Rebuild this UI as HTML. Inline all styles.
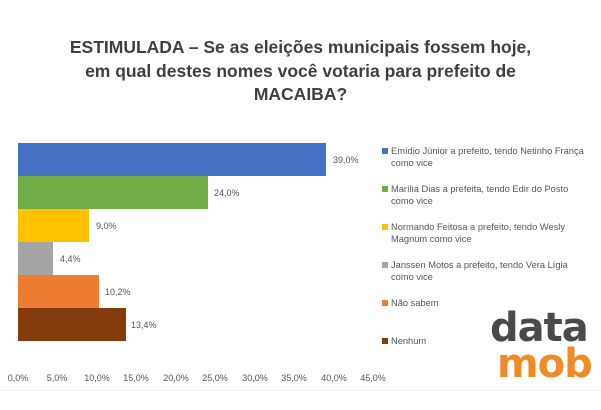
<!DOCTYPE html>
<html><head><meta charset="utf-8"><style>
body{margin:0;width:601px;height:410px;background:#fff;position:relative;overflow:hidden;font-family:"Liberation Sans",sans-serif}
.t{position:absolute;left:0;width:601px;text-align:center;font-weight:bold;font-size:17.5px;color:#3f3f3f;line-height:23.5px;top:36px}
.b{position:absolute;left:18px;height:33px}
.v{position:absolute;font-size:9px;color:#555}
.x{position:absolute;top:373px;font-size:9px;color:#555;width:40px;text-align:center}
.l{position:absolute;left:382px;font-size:9.3px;color:#555;line-height:12px;width:215px}
.l i{position:absolute;left:0;top:3px;width:6px;height:6px}
.l span{display:block;padding-left:9px}
.lg{position:absolute;font-weight:900;font-family:"DejaVu Sans",sans-serif;font-size:40px;letter-spacing:-1px}
</style></head><body>
<div class="t">ESTIMULADA – Se as eleições municipais fossem hoje,<br>em qual destes nomes você votaria para prefeito de<br>MACAIBA?</div>
<div class="b" style="top:143px;width:308px;background:#4472c4"></div>
<div class="b" style="top:176px;width:190px;background:#70ad47"></div>
<div class="b" style="top:209px;width:71px;background:#ffc000"></div>
<div class="b" style="top:242px;width:35px;background:#a5a5a5"></div>
<div class="b" style="top:275px;width:81px;background:#ed7d31"></div>
<div class="b" style="top:308px;width:108px;background:#843c0c"></div>
<div class="v" style="left:333px;top:155px">39,0%</div>
<div class="v" style="left:214px;top:188px">24,0%</div>
<div class="v" style="left:96px;top:221px">9,0%</div>
<div class="v" style="left:60px;top:254px">4,4%</div>
<div class="v" style="left:105px;top:287px">10,2%</div>
<div class="v" style="left:131px;top:320px">13,4%</div>
<div class="x" style="left:-2px">0,0%</div>
<div class="x" style="left:37px">5,0%</div>
<div class="x" style="left:77px">10,0%</div>
<div class="x" style="left:116px">15,0%</div>
<div class="x" style="left:156px">20,0%</div>
<div class="x" style="left:195px">25,0%</div>
<div class="x" style="left:235px">30,0%</div>
<div class="x" style="left:274px">35,0%</div>
<div class="x" style="left:314px">40,0%</div>
<div class="x" style="left:353px">45,0%</div>
<div class="l" style="top:145px"><i style="background:#4472c4"></i><span>Emídio Júnior a prefeito, tendo Netinho França<br>como vice</span></div>
<div class="l" style="top:183px"><i style="background:#70ad47"></i><span>Marília Dias a prefeita, tendo Edir do Posto<br>como vice</span></div>
<div class="l" style="top:221px"><i style="background:#ffc000"></i><span>Normando Feitosa a prefeito, tendo Wesly<br>Magnum como vice</span></div>
<div class="l" style="top:259px"><i style="background:#a5a5a5"></i><span>Janssen Motos a prefeito, tendo Vera Lígia<br>como vice</span></div>
<div class="l" style="top:297px"><i style="background:#ed7d31"></i><span>Não sabem</span></div>
<div class="l" style="top:335px"><i style="background:#843c0c"></i><span>Nenhum</span></div>
<div class="lg" style="left:490px;top:305px;color:#4a4a4a">data</div>
<div class="lg" style="left:497px;top:341px;color:#f08a24">mob</div>
<div style="position:absolute;left:0;top:390px;width:601px;height:1px;background:#eee"></div>
</body></html>
